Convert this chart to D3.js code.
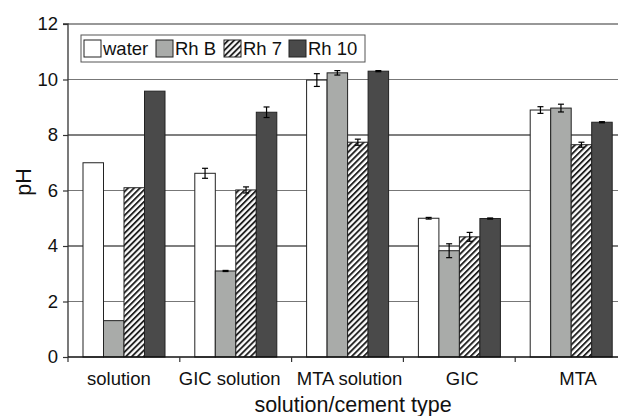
<!DOCTYPE html>
<html><head><meta charset="utf-8">
<script src="https://cdn.jsdelivr.net/npm/d3@7/dist/d3.min.js"></script>
<style>body{margin:0;background:#fff}svg{display:block;font-family:"Liberation Sans",Arial,sans-serif}</style>
</head><body>
<svg id="c" width="618" height="416"></svg>
<script>
const categories = ["solution","GIC solution","MTA solution","GIC","MTA"];
const seriesNames = ["water","Rh B","Rh 7","Rh 10"];
const water  = [7.0, 6.62, 9.98, 5.0, 8.9];
const rhB    = [1.31, 3.1, 10.24, 3.83, 8.97];
const rh7    = [6.1, 6.02, 7.74, 4.33, 7.65];
const rh10   = [9.58, 8.82, 10.3, 4.99, 8.46];
const waterErr = [0, 0.18, 0.23, 0.03, 0.12];
const rhBErr   = [0, 0.02, 0.08, 0.25, 0.14];
const rh7Err   = [0, 0.11, 0.11, 0.16, 0.09];
const rh10Err  = [0, 0.19, 0.02, 0.02, 0.02];
const yTicks = [0,2,4,6,8,10,12];

const values = [water, rhB, rh7, rh10];
const errs = [waterErr, rhBErr, rh7Err, rh10Err];
const fills = ["#ffffff","#a9aba9","url(#hatch)","#4a4a4a"];

const svg = d3.select("#c");
const defs = svg.append("defs");
const pat = defs.append("pattern").attr("id","hatch").attr("patternUnits","userSpaceOnUse")
  .attr("width",4.2).attr("height",4.2).attr("patternTransform","rotate(45)");
pat.append("rect").attr("width",4.2).attr("height",4.2).attr("fill","#fff");
pat.append("rect").attr("x",0).attr("y",0).attr("width",1.9).attr("height",4.2).attr("fill","#222");

const L=68, R=627, T=24, B=357;
const x = d3.scaleBand().domain(categories).range([L,R]).paddingInner(0).paddingOuter(0);
const y = d3.scaleLinear().domain([0,12]).range([B,T]);
const bw = 20.5, gOff = 15;

// gridlines
const gridColor = v => (v===4||v===8) ? "#000" : "#777";
svg.append("g").selectAll("line").data(yTicks.filter(v=>v>0)).join("line")
  .attr("x1",L).attr("x2",R).attr("y1",d=>y(d)).attr("y2",d=>y(d))
  .attr("stroke",d=>d===12?"#333":gridColor(d)).attr("stroke-width",1.2);

// bars
const data = [];
categories.forEach((c,ci)=>seriesNames.forEach((s,si)=>data.push({c,si,v:values[si][ci],e:errs[si][ci]})));
svg.append("g").selectAll("rect").data(data).join("rect")
  .attr("x",d=>x(d.c)+gOff+d.si*bw).attr("width",bw)
  .attr("y",d=>y(d.v)).attr("height",d=>y(0)-y(d.v))
  .attr("fill",d=>fills[d.si]).attr("stroke","#222").attr("stroke-width",1);

// error bars
const eg = svg.append("g").attr("stroke","#000").attr("stroke-width",1.2);
data.filter(d=>d.e>0).forEach(d=>{
  const cx = x(d.c)+gOff+d.si*bw+bw/2;
  eg.append("line").attr("x1",cx).attr("x2",cx).attr("y1",y(d.v+d.e)).attr("y2",y(d.v-d.e));
  eg.append("line").attr("x1",cx-3).attr("x2",cx+3).attr("y1",y(d.v+d.e)).attr("y2",y(d.v+d.e));
  eg.append("line").attr("x1",cx-3).attr("x2",cx+3).attr("y1",y(d.v-d.e)).attr("y2",y(d.v-d.e));
});

// y axis
const ya = svg.append("g").attr("transform",`translate(${L},0)`)
  .call(d3.axisLeft(y).tickValues(yTicks).tickSize(5).tickPadding(5).tickFormat(d3.format("d")));
ya.select(".domain").attr("stroke","#333").attr("stroke-width",1.3).attr("d",`M-5,${T}H0V${B}`);
ya.selectAll(".tick line").attr("stroke","#333").attr("stroke-width",1.2);
ya.selectAll(".tick text").attr("font-size",18.5).attr("fill","#111").attr("font-family","Liberation Sans, Arial, sans-serif");

// x axis
const boundaries = categories.map(c=>x(c)).concat([R]);
svg.append("line").attr("x1",L).attr("x2",R).attr("y1",B).attr("y2",B).attr("stroke","#111").attr("stroke-width",1.4);
svg.append("g").selectAll("line").data(boundaries).join("line")
  .attr("x1",d=>d).attr("x2",d=>d).attr("y1",B).attr("y2",B+5).attr("stroke","#333").attr("stroke-width",1.2);
const labelShift = [-5,-6,2,3,7];
svg.append("g").selectAll("text").data(categories).join("text")
  .attr("x",(d,i)=>x(d)+x.bandwidth()/2+labelShift[i]).attr("y",385)
  .attr("text-anchor","middle").attr("font-size",18.5).attr("fill","#111").text(d=>d);

svg.append("text").attr("x",353).attr("y",412).attr("text-anchor","middle")
  .attr("font-size",21.5).attr("fill","#111").text("solution/cement type");
svg.append("text").attr("transform","translate(31,182) rotate(-90)").attr("text-anchor","middle")
  .attr("font-size",21.5).attr("fill","#111").text("pH");

// legend
const lg = svg.append("g");
lg.append("rect").attr("x",81).attr("y",35).attr("width",284).attr("height",27)
  .attr("fill","#fff").attr("stroke","#555").attr("stroke-width",1);
const legX = [84, 156, 224, 289];
seriesNames.forEach((s,i)=>{
  lg.append("rect").attr("x",legX[i]).attr("y",40).attr("width",17).attr("height",17)
    .attr("fill",fills[i]).attr("stroke","#222").attr("stroke-width",1);
  lg.append("text").attr("x",legX[i]+19).attr("y",55).attr("font-size",18.5).attr("fill","#111").text(s);
});
</script>
</body></html>
